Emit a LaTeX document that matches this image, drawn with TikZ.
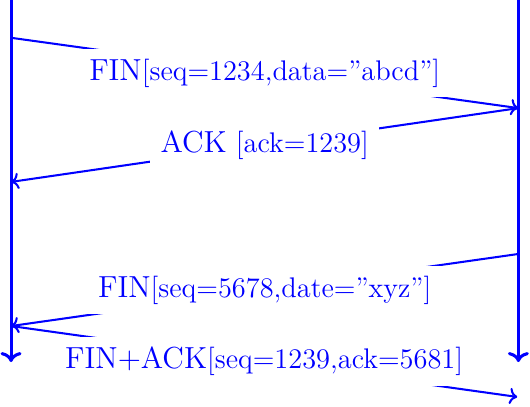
\documentclass[tikz,border=0pt]{standalone}
\usepackage{tikz}
\usetikzlibrary{arrows.meta, positioning, calc}
\newcommand{\msgkind}[1]{{\fontsize{14.9}{18}\selectfont #1}}

\begin{document}
\begin{tikzpicture}[
          host/.style={->, line width=1.5pt, blue},
          msg/.style={->, line width=1pt, blue},
          lbl/.style={fill=white, text=blue, inner sep=5pt,
                      font=\fontsize{13.9}{16}\selectfont}
        ]
          \useasboundingbox (0,0) rectangle (9.12,-7.0);
          % the two hosts
          \coordinate (atop) at (0.19,0);
          \coordinate (aend) at (0.19,-6.23);
          \coordinate (btop) at (8.92,0);
          \coordinate (bend) at (8.92,-6.23);
          \draw[host] (atop) -- (aend);
          \draw[host] (btop) -- (bend);
          % message ends
          \coordinate (a1) at (0.19,-0.65);
          \coordinate (b1) at (8.92,-1.86);
          \coordinate (a2) at (0.19,-3.13);
          \coordinate (b3) at (8.92,-4.37);
          \coordinate (a3) at (0.19,-5.61);
          \coordinate (b4) at (8.90,-6.83);
          \draw[msg] (a1) -- node[lbl] (fin1) {\msgkind{FIN}[seq=1234,data="abcd"]} (b1);
          \draw[msg] (b1) -- node[lbl] (ack1) {\msgkind{ACK} [ack=1239]} (a2);
          \draw[msg] (b3) -- node[lbl] (fin2) {\msgkind{FIN}[seq=5678,date="xyz"]} (a3);
          \draw[msg] (a3) -- node[lbl] (finack) {\msgkind{FIN+ACK}[seq=1239,ack=5681]} (b4);
        \end{tikzpicture}
\end{document}
